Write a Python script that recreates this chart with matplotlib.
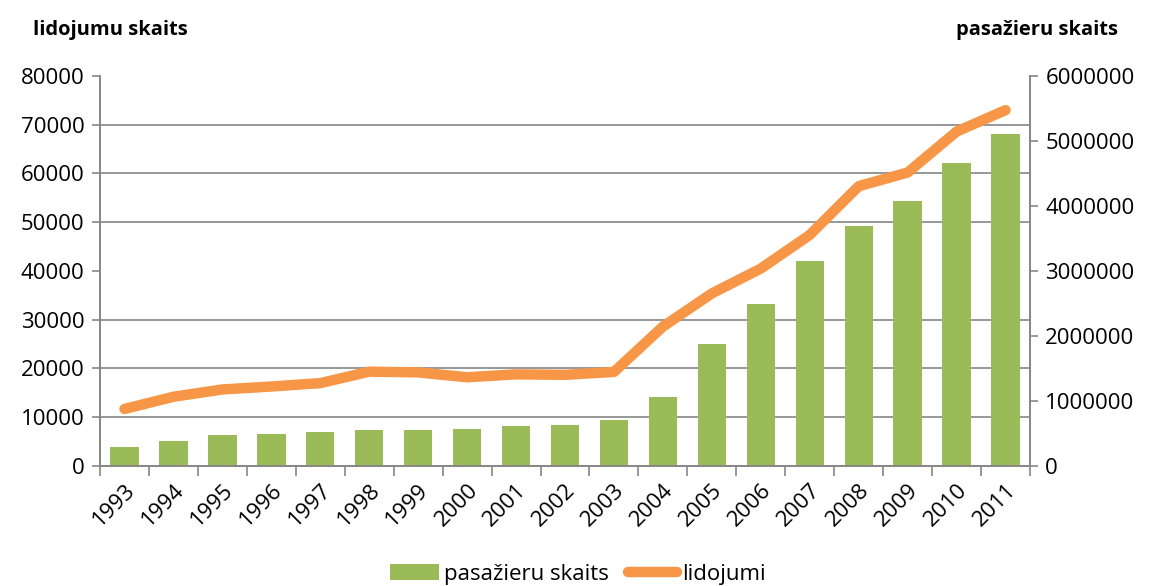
import matplotlib.pyplot as plt
import numpy as np
from matplotlib.patches import Patch
from matplotlib.lines import Line2D
from matplotlib.ticker import FixedLocator

plt.rcParams["font.family"] = ["Open Sans", "DejaVu Sans"]

# data
years = [str(y) for y in range(1993, 2012)]
passengers = [297000, 385000, 482000, 487000, 523000, 549000, 559000, 569000,
              615000, 626000, 708000, 1057000, 1872000, 2490000, 3160000,
              3690000, 4070000, 4660000, 5110000]
flights = [11700, 14200, 15700, 16300, 17000, 19350, 19200, 18200, 18800,
           18700, 19300, 28600, 35400, 40500, 47400, 57400, 60200, 68600, 73000]

green = "#9BBB59"
orange = "#F79646"
grey = "#868686"

fig = plt.figure(figsize=(11.51, 5.86), dpi=100)
ax_bar = fig.add_axes([0.0869, 0.2048, 0.808, 0.6655])
ax_line = ax_bar.twinx()

x = np.arange(len(years))

# bars on the right-hand (passenger) axis
ax_bar.bar(x, passengers, width=0.58, color=green, zorder=2)
ax_bar.set_ylim(0, 6000000)
ax_bar.yaxis.tick_right()
ax_bar.set_yticks(np.arange(0, 6000001, 1000000))
ax_bar.set_yticklabels([str(v) for v in range(0, 6000001, 1000000)])
# gridlines follow the left axis (every 10000 flights)
ax_bar.yaxis.set_minor_locator(FixedLocator(np.linspace(0, 6000000, 9)))
ax_bar.grid(True, which="minor", axis="y", color=grey, linewidth=1.2)
ax_bar.tick_params(axis="y", which="minor", length=0)
ax_bar.set_axisbelow(True)

# line on the left-hand (flights) axis
ax_line.plot(x, flights, color=orange, linewidth=7.5, solid_capstyle="round",
             solid_joinstyle="round")
ax_line.set_ylim(0, 80000)
ax_line.yaxis.tick_left()
ax_line.set_yticks(np.arange(0, 80001, 10000))
ax_line.set_zorder(ax_bar.get_zorder() + 1)
ax_line.patch.set_visible(False)

ax_bar.set_xlim(-0.5, len(years) - 0.5)
ax_bar.set_xticks(x)
ax_bar.set_xticklabels(years, rotation=45, ha="right", rotation_mode="anchor")
ax_bar.xaxis.set_minor_locator(FixedLocator(np.arange(-0.5, len(years), 1)))
ax_bar.tick_params(axis="x", which="major", length=0, pad=10)
ax_bar.tick_params(axis="x", which="minor", length=7, color=grey, width=1.2)

for a in (ax_bar, ax_line):
    a.tick_params(axis="y", which="major", length=6, color=grey, width=1.2,
                  labelsize=16, pad=5)
    a.tick_params(axis="x", labelsize=16)
    a.spines["top"].set_visible(False)
    for s in ("left", "right", "bottom"):
        a.spines[s].set_color(grey)
        a.spines[s].set_linewidth(1.2)

fig.text(0.029, 0.948, "lidojumu skaits", fontsize=14.5, fontweight="bold",
         va="center", ha="left")
fig.text(0.971, 0.948, "pasažieru skaits", fontsize=14.5, fontweight="bold",
         va="center", ha="right")

handles = [Patch(facecolor=green, label="pasažieru skaits"),
           Line2D([0], [0], color=orange, linewidth=7.5, solid_capstyle="round",
                  label="lidojumi")]
fig.legend(handles=handles, loc="center", bbox_to_anchor=(0.502, 0.02),
           ncol=2, frameon=False, fontsize=16, handlelength=2.2,
           handletextpad=0.2, columnspacing=0.9)

fig.savefig("out.png", dpi=100)
